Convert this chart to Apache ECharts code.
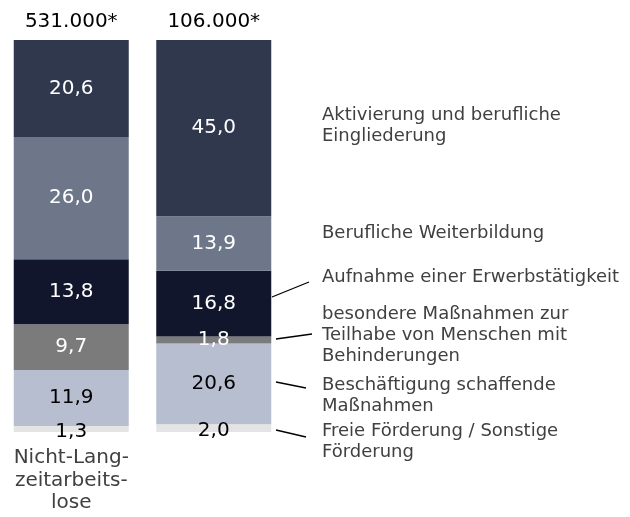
<!DOCTYPE html>
<html>
<head>
<meta charset="utf-8">
<script src="https://cdn.jsdelivr.net/npm/echarts@6/dist/echarts.min.js"></script>
<style>
  html, body { margin: 0; padding: 0; background: #fff; }
  #chart { width: 630px; height: 517px; }
</style>
</head>
<body>
<div id="chart"></div>
<script>
// Gruppen (x-Achse) und Gesamtzahlen
const groups = ["Nicht-Lang-\nzeitarbeits-\nlose", "Lang-\nzeitarbeits-\nlose"];
const totals = ["531.000*", "106.000*"];

// Maßnahmen, von unten nach oben gestapelt
const measures = [
  "Freie Förderung / Sonstige Förderung",
  "Beschäftigung schaffende Maßnahmen",
  "besondere Maßnahmen zur Teilhabe von Menschen mit Behinderungen",
  "Aufnahme einer Erwerbstätigkeit",
  "Berufliche Weiterbildung",
  "Aktivierung und berufliche Eingliederung"
];
// Anteile in % je Gruppe
const nichtLzal = [1.3, 11.9, 9.7, 13.8, 26.0, 20.6];
const lzal = [2.0, 20.6, 1.8, 16.8, 13.9, 45.0];

const colors = ["#e4e4e4", "#b7bed0", "#7b7b7b", "#11162c", "#6e778a", "#30384e"];
const labelColors = ["#000", "#000", "#fff", "#fff", "#fff", "#fff"];
const font = "DejaVu Sans";

// Balken werden jeweils auf 100 % normiert
const sum = arr => arr.reduce((a, b) => a + b, 0);
const sum1 = sum(nichtLzal);
const sum2 = sum(lzal);

const series = measures.map((name, i) => ({
  name: name,
  type: "bar",
  stack: "total",
  barWidth: 115,
  itemStyle: { color: colors[i] },
  label: {
    show: true,
    position: "inside",
    color: labelColors[i],
    fontFamily: font,
    fontSize: 20,
    // unterstes Segment: Beschriftung etwas tiefer, wie im Original
    offset: i === 0 ? [0, 3] : [0, 0],
    formatter: p => p.data.raw.toFixed(1).replace(".", ",")
  },
  data: [
    { value: nichtLzal[i] / sum1 * 100, raw: nichtLzal[i] },
    { value: lzal[i] / sum2 * 100, raw: lzal[i] }
  ]
}));

// Beschriftungen rechts
const notes = [
  { text: "Aktivierung und berufliche\nEingliederung", y: 126 },
  { text: "Berufliche Weiterbildung", y: 233 },
  { text: "Aufnahme einer Erwerbstätigkeit", y: 277 },
  { text: "besondere Maßnahmen zur\nTeilhabe von Menschen mit\nBehinderungen", y: 335 },
  { text: "Beschäftigung schaffende\nMaßnahmen", y: 396 },
  { text: "Freie Förderung / Sonstige\nFörderung", y: 442 }
];
const leaders = [
  [272, 297, 309, 282],
  [276, 339, 312, 334],
  [276, 382, 306, 388],
  [276, 430, 306, 437]
];

const chart = echarts.init(document.getElementById("chart"));
chart.setOption({
  animation: false,
  grid: { left: -5, width: 290, top: 40, bottom: 85 },
  xAxis: [
    {
      type: "category",
      data: groups,
      axisLine: { show: false },
      axisTick: { show: false },
      axisLabel: {
        color: "#404040",
        fontFamily: font,
        fontSize: 20,
        lineHeight: 22.5,
        margin: 15
      }
    },
    {
      type: "category",
      position: "top",
      data: totals,
      axisLine: { show: false },
      axisTick: { show: false },
      axisLabel: {
        color: "#000",
        fontFamily: font,
        fontSize: 20,
        margin: 8
      }
    }
  ],
  yAxis: { type: "value", min: 0, max: 100, show: false },
  series: series,
  graphic: notes.map(n => ({
    type: "text",
    x: 322,
    y: n.y,
    style: {
      text: n.text,
      fill: "#404040",
      font: "18px " + font,
      lineHeight: 21,
      verticalAlign: "middle"
    }
  })).concat(leaders.map(l => ({
    type: "line",
    shape: { x1: l[0], y1: l[1], x2: l[2], y2: l[3] },
    style: { stroke: "#000", lineWidth: 1.3 }
  })))
});
</script>
</body>
</html>
